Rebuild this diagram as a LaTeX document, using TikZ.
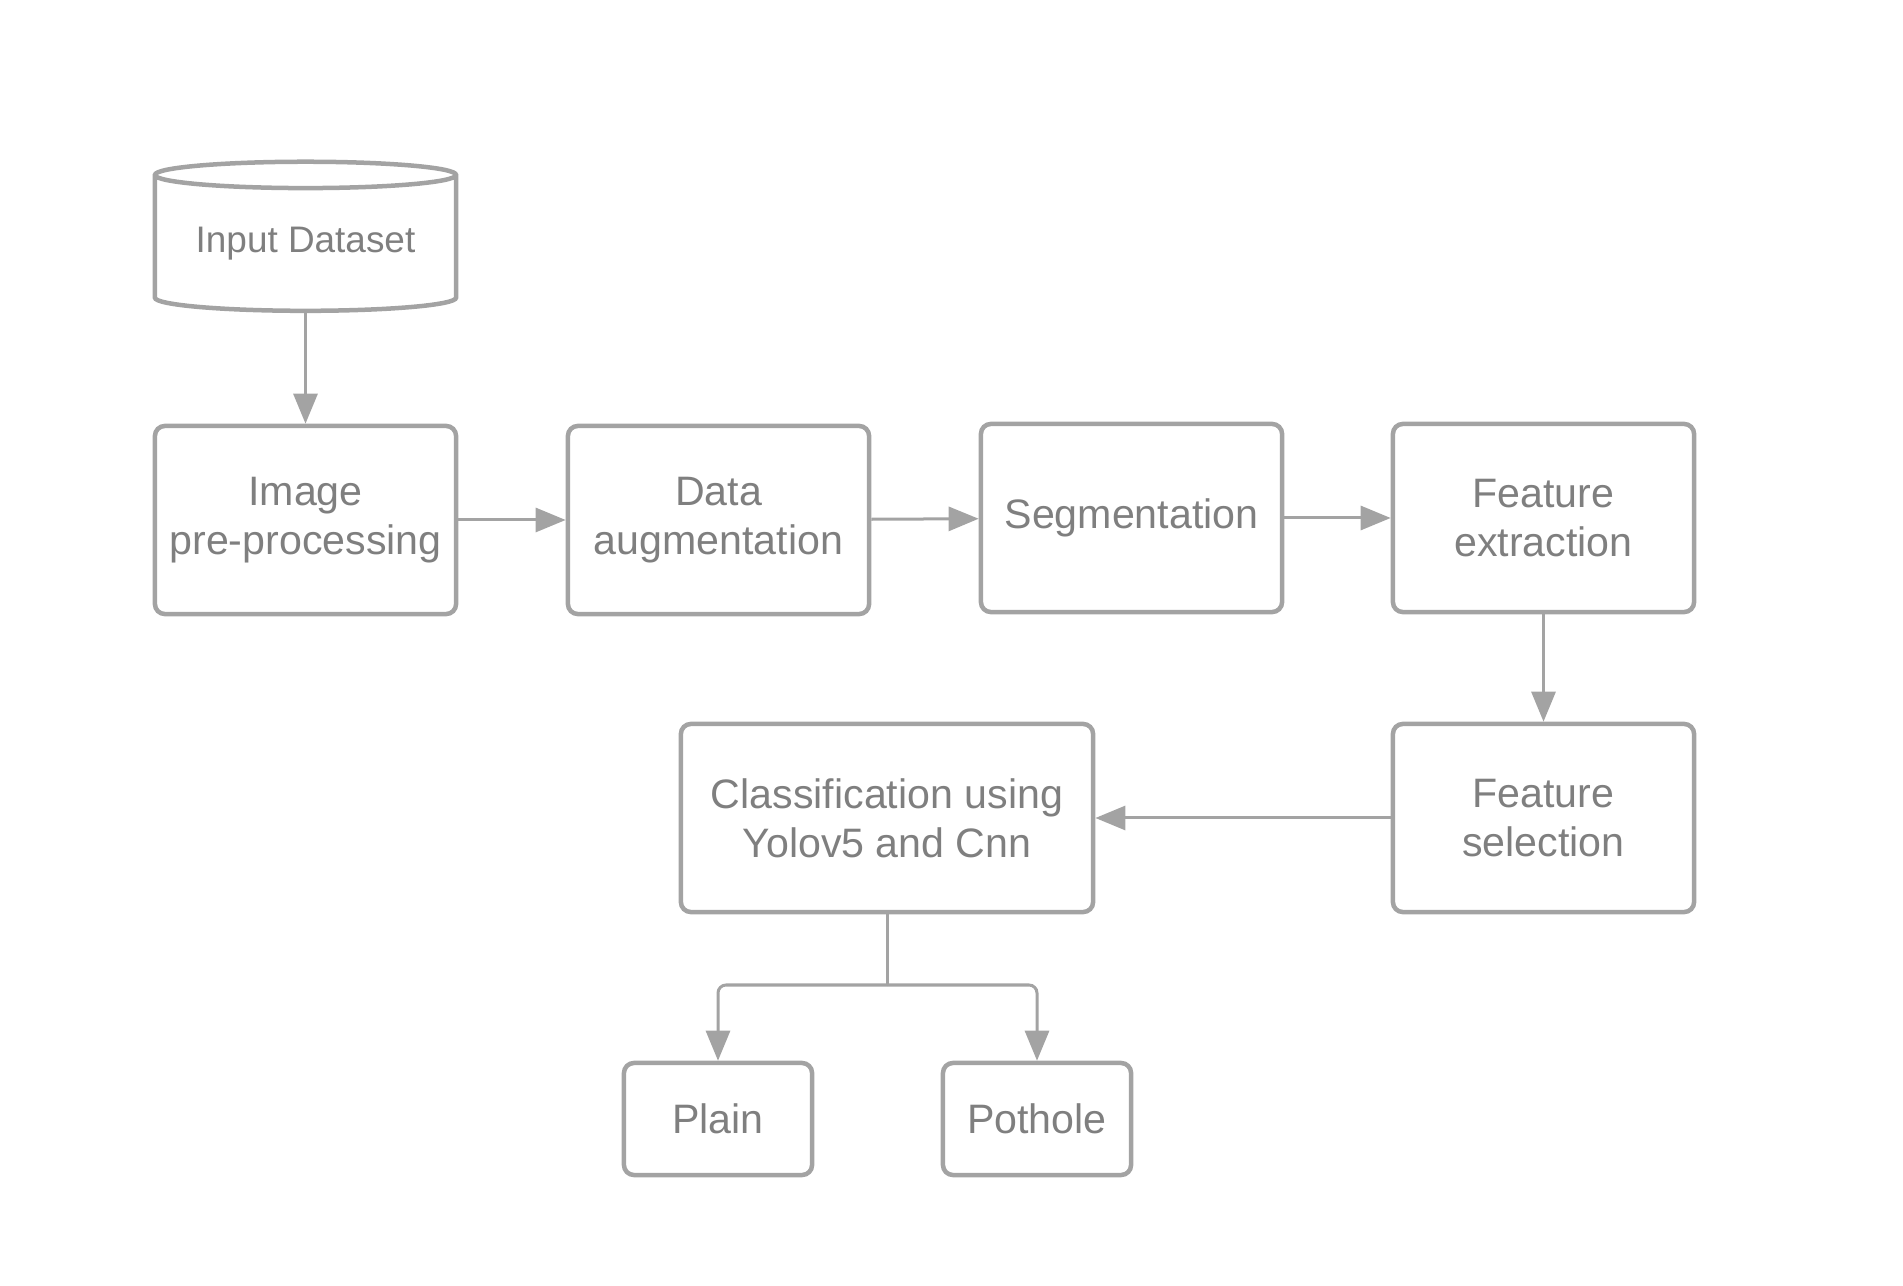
\documentclass[tikz,border=0pt]{standalone}
\usepackage{fontspec}
\setmainfont{Liberation Sans}
\usetikzlibrary{arrows.meta,shapes.geometric}

\definecolor{linegrey}{HTML}{A3A3A3}
\definecolor{textgrey}{HTML}{7F7F7F}

\tikzset{
  procbox/.style={draw=linegrey, line width=0.045cm, rounded corners=0.1cm,
    text=textgrey, align=center, inner sep=0pt,
    font=\fontsize{11.7}{13.9}\selectfont,
    minimum width=3.01cm, minimum height=1.88cm},
  flow/.style={draw=linegrey, line width=0.03cm,
    -{Triangle[length=0.3cm,width=0.24cm]}},
}

\begin{document}
\begin{tikzpicture}[x=0.01cm, y=-0.01cm]
        \useasboundingbox (0,0) rectangle (1903,1286);
        % data source
        \node[cylinder, shape border rotate=90, aspect=0.12, draw=linegrey,
        line width=0.045cm, text=textgrey, inner sep=0pt,
        font=\fontsize{10.5}{12.5}\selectfont,
        minimum width=3.01cm, minimum height=1.49cm]
        (dataset) at (305.5,244) {Input Dataset};
        % first row
        \node[procbox] (prep) at (305.5,520) {Image\\pre-processing};
        \node[procbox] (augment) at (718.5,520) {Data\\augmentation};
        \node[procbox] (segment) at (1131.5,518) {Segmentation};
        \node[procbox] (extract) at (1543.5,518) {Feature\\extraction};
        % second row
        \node[procbox] (select) at (1543.5,818) {Feature\\selection};
        \node[procbox, minimum width=4.12cm] (classify) at (887,818)
        {Classification using\\Yolov5 and Cnn};
        % outputs
        \node[procbox, minimum width=1.88cm, minimum height=1.12cm]
        (plain) at (718,1119) {Plain};
        \node[procbox, minimum width=1.88cm, minimum height=1.12cm]
        (pothole) at (1037,1119) {Pothole};
        \coordinate (split) at (887,985);

        \draw[flow] (dataset) -- (prep);
        \draw[flow] (prep) -- (augment);
        \draw[flow] (augment) -- (segment);
        \draw[flow] (segment) -- (extract);
        \draw[flow] (extract) -- (select);
        \draw[flow] (select) -- (classify);
        \draw[draw=linegrey, line width=0.03cm] (classify) -- (split);
        \draw[flow, rounded corners=0.08cm] (split) -| (plain);
        \draw[flow, rounded corners=0.08cm] (split) -| (pothole);
      \end{tikzpicture}
\end{document}
